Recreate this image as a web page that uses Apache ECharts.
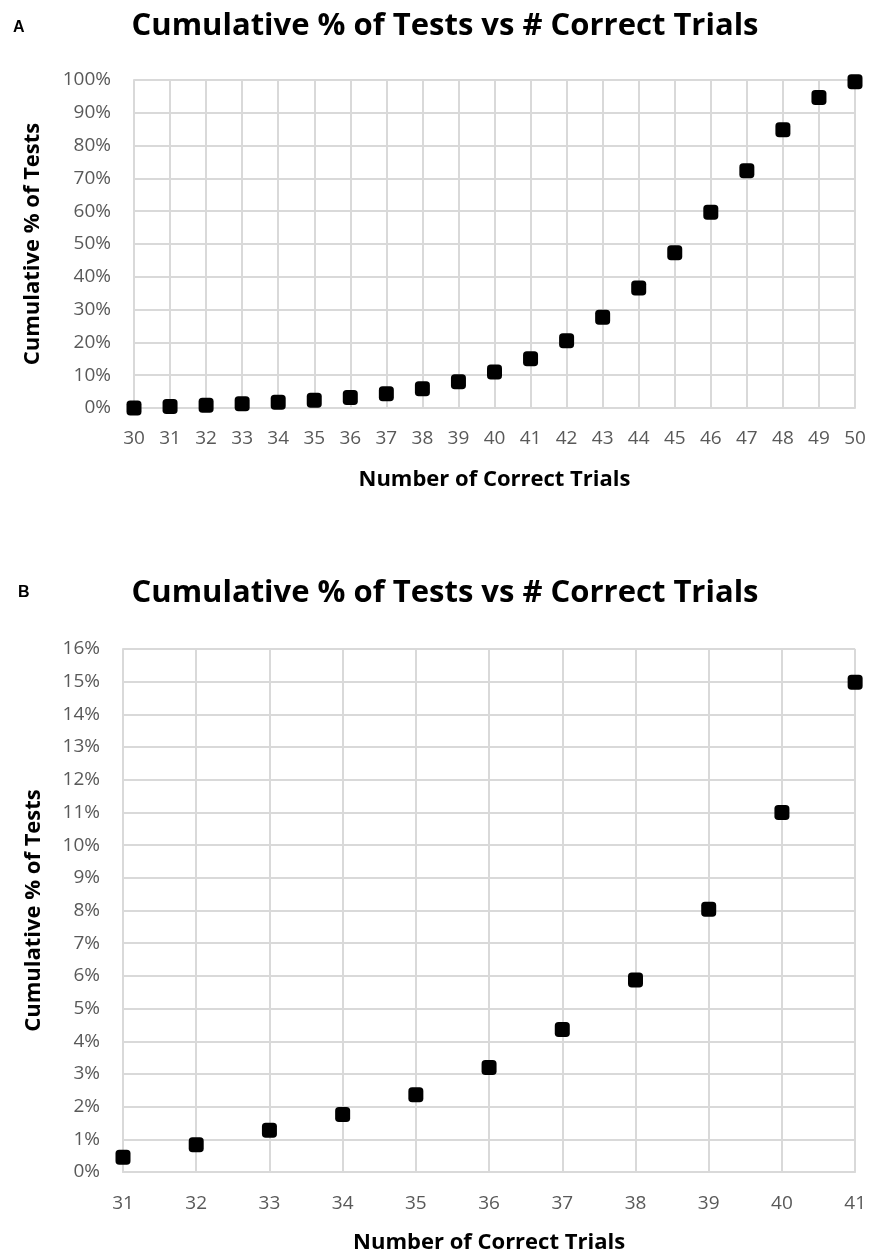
<!DOCTYPE html>
<html>
<head>
<meta charset="utf-8">
<script src="https://cdn.jsdelivr.net/npm/echarts@6/dist/echarts.min.js"></script>
<style>
  html, body { margin: 0; padding: 0; background: #fff; }
  #main { width: 869px; height: 1255px; }
</style>
</head>
<body>
<div id="main"></div>
<script>
// panel A: all trials, panel B: zoom on the low end
var trialsA = [30, 31, 32, 33, 34, 35, 36, 37, 38, 39, 40, 41, 42, 43, 44, 45, 46, 47, 48, 49, 50];
var cumPctA = [0.0, 0.45, 0.83, 1.28, 1.76, 2.36, 3.2, 4.36, 5.87, 8.04, 11.0, 15.0, 20.5, 27.7, 36.6, 47.3, 59.7, 72.3, 84.8, 94.7, 99.5];
var trialsB = [31, 32, 33, 34, 35, 36, 37, 38, 39, 40, 41];
var cumPctB = [0.45, 0.83, 1.28, 1.76, 2.36, 3.2, 4.36, 5.87, 8.04, 11.0, 14.98];

var titleText = 'Cumulative % of Tests vs # Correct Trials';
var xName = 'Number of Correct Trials';
var yName = 'Cumulative % of Tests';

var font = '"Open Sans", sans-serif';
var gridColor = '#d9d9d9';
var labelColor = '#595959';

function pairs(xs, ys) {
    var out = [];
    for (var i = 0; i < xs.length; i++) out.push([xs[i], ys[i]]);
    return out;
}

function xAxisFor(idx, min, max, gap, margin) {
    return {
        type: 'value', gridIndex: idx, min: min, max: max, interval: 1,
        name: xName, nameLocation: 'middle', nameGap: gap,
        nameTextStyle: { fontFamily: font, fontWeight: 'bold', fontSize: 22, color: '#000' },
        axisLine: { show: true, lineStyle: { color: gridColor, width: 2 } },
        axisTick: { show: false },
        axisLabel: { color: labelColor, fontFamily: font, fontSize: 19, margin: margin },
        splitLine: { show: true, lineStyle: { color: gridColor, width: 2 } }
    };
}

function yAxisFor(idx, max, interval, gap) {
    return {
        type: 'value', gridIndex: idx, min: 0, max: max, interval: interval,
        name: yName, nameLocation: 'middle', nameGap: gap, nameRotate: 90,
        nameTextStyle: { fontFamily: font, fontWeight: 'bold', fontSize: 22, color: '#000' },
        axisLine: { show: true, lineStyle: { color: gridColor, width: 2 } },
        axisTick: { show: false },
        axisLabel: { color: labelColor, fontFamily: font, fontSize: 19, margin: 23,
            formatter: function (v) { return Math.round(v) + '%'; } },
        splitLine: { show: true, lineStyle: { color: gridColor, width: 2 } }
    };
}

var chart = echarts.init(document.getElementById('main'));
var option = {
    backgroundColor: '#fff',
    animation: false,
    title: [
        { text: titleText, left: 440, top: 6, textAlign: 'center',
          textStyle: { fontFamily: font, fontWeight: 'bold', fontSize: 31, color: '#000' } },
        { text: 'A', left: 8, top: 15,
          textStyle: { fontFamily: 'Liberation Sans', fontWeight: 'bold', fontSize: 16, color: '#000' } },
        { text: titleText, left: 440, top: 573, textAlign: 'center',
          textStyle: { fontFamily: font, fontWeight: 'bold', fontSize: 31, color: '#000' } },
        { text: 'B', left: 13, top: 580,
          textStyle: { fontFamily: 'Liberation Sans', fontWeight: 'bold', fontSize: 16, color: '#000' } }
    ],
    grid: [
        { left: 134, top: 80, right: 14, bottom: 847 },
        { left: 123, top: 649, right: 11, bottom: 83 }
    ],
    xAxis: [xAxisFor(0, 30, 50, 61, 21), xAxisFor(1, 31, 41, 60, 22)],
    yAxis: [yAxisFor(0, 100, 10, 90), yAxisFor(1, 16, 1, 78)],
    series: [
        { type: 'scatter', xAxisIndex: 0, yAxisIndex: 0, data: pairs(trialsA, cumPctA),
          symbol: 'roundRect', symbolSize: 15, itemStyle: { color: '#000', opacity: 1 } },
        { type: 'scatter', xAxisIndex: 1, yAxisIndex: 1, data: pairs(trialsB, cumPctB),
          symbol: 'roundRect', symbolSize: 15, itemStyle: { color: '#000', opacity: 1 } }
    ]
};
chart.setOption(option);
</script>
</body>
</html>
